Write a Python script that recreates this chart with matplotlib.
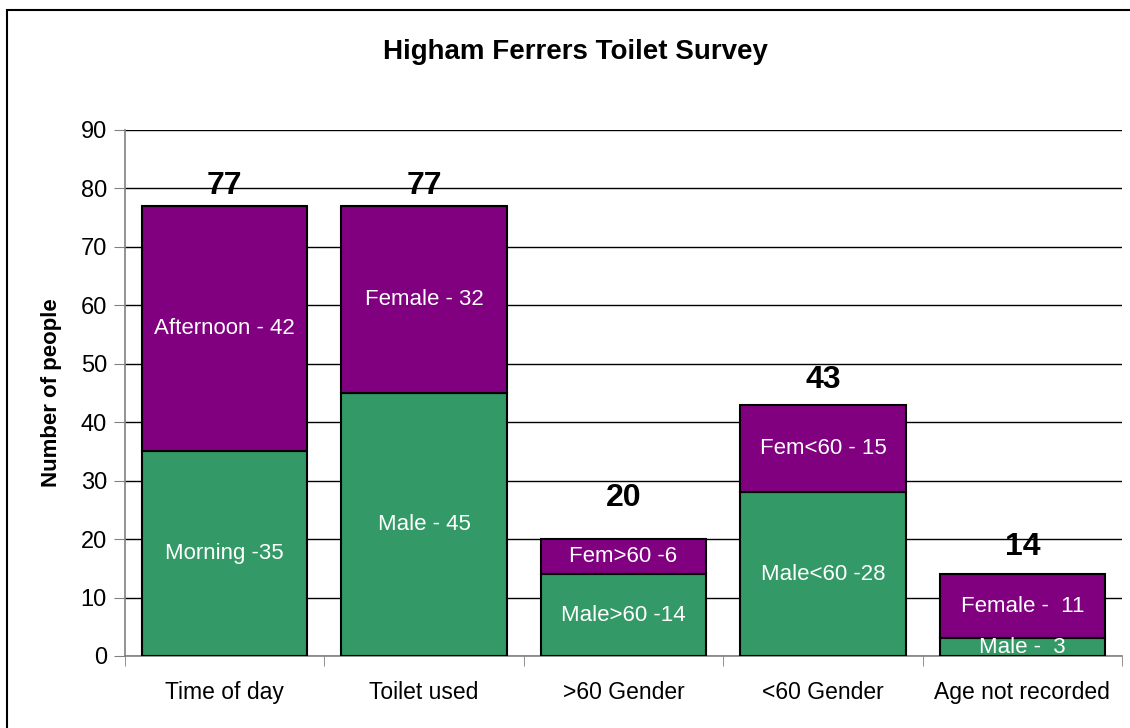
import matplotlib.pyplot as plt
from matplotlib.patches import Rectangle

# %% data
categories = ['Time of day', 'Toilet used', '>60 Gender', '<60 Gender', 'Age not recorded']
lower_values = [35, 45, 14, 28, 3]
upper_values = [42, 32, 6, 15, 11]
lower_labels = ['Morning -35', 'Male - 45', 'Male>60 -14', 'Male<60 -28', 'Male -  3']
upper_labels = ['Afternoon - 42', 'Female - 32', 'Fem>60 -6', 'Fem<60 - 15', 'Female -  11']
totals = [77, 77, 20, 43, 14]
# where the total labels sit (data units), hand placed in the original
total_label_y = [80.5, 80.5, 27.0, 47.3, 18.6]
y_ticks = list(range(0, 100, 10))

GREEN = '#339966'
PURPLE = '#800080'

plt.rcParams['font.family'] = ['Liberation Sans', 'DejaVu Sans']

fig = plt.figure(figsize=(11.3, 7.28), dpi=100)
ax = fig.add_axes([125 / 1130, 1 - 656 / 728, (1122 - 125) / 1130, (656 - 130) / 728])

x = list(range(len(categories)))
ax.bar(x, lower_values, width=0.83, color=GREEN, edgecolor='black', linewidth=1.5, zorder=3)
ax.bar(x, upper_values, bottom=lower_values, width=0.83, color=PURPLE,
       edgecolor='black', linewidth=1.5, zorder=3)

for i in x:
    ax.text(i, lower_values[i] / 2, lower_labels[i], ha='center', va='center',
            color='white', fontsize=16, zorder=4)
    ax.text(i, lower_values[i] + upper_values[i] / 2, upper_labels[i], ha='center',
            va='center', color='white', fontsize=16, zorder=4)
    ax.text(i, total_label_y[i], str(totals[i]), ha='center', va='center',
            fontsize=23, fontweight='bold', zorder=4)

ax.set_xlim(-0.5, len(categories) - 0.5)
ax.set_ylim(0, 90)
ax.set_yticks(y_ticks)
ax.tick_params(axis='y', labelsize=17, length=8, color='#808080', pad=5)
ax.set_xticks(x)
ax.set_xticklabels(categories, fontsize=16.5)
ax.tick_params(axis='x', length=0, pad=18)
# category separators on the x axis
ax.set_xticks([i - 0.5 for i in range(len(categories) + 1)], minor=True)
ax.tick_params(axis='x', which='minor', length=7, color='#808080')

ax.grid(axis='y', color='black', linewidth=1, zorder=0)
ax.set_axisbelow(True)
for side in ['top', 'right']:
    ax.spines[side].set_visible(False)
for side in ['left', 'bottom']:
    ax.spines[side].set_color('#808080')
    ax.spines[side].set_linewidth(1.2)

ax.set_ylabel('Number of people', fontsize=16, fontweight='bold')
ax.yaxis.set_label_coords(-0.063, 0.5)
fig.text(575 / 1130, 1 - 52 / 728, 'Higham Ferrers Toilet Survey', ha='center', va='center',
         fontsize=20, fontweight='bold')

# outer chart border
fig.patches.append(Rectangle((7 / 1130, -0.01), 1.05, 1 - 10 / 728 + 0.01,
                             transform=fig.transFigure, fill=False, edgecolor='black',
                             linewidth=1.5))

fig.savefig('out.png', dpi=100)
